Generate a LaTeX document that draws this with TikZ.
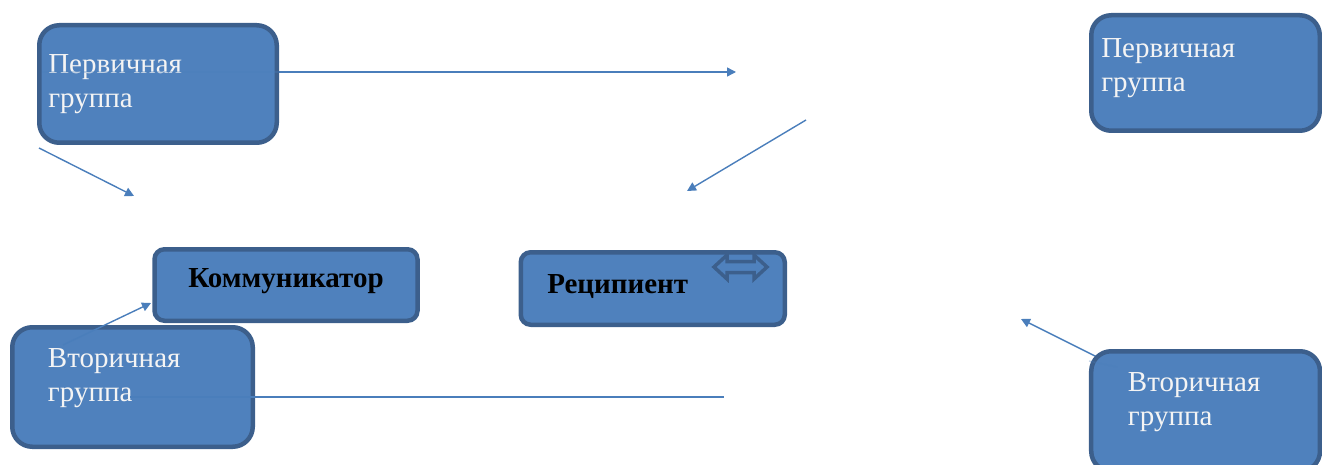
\documentclass[tikz,border=0pt]{standalone}
\usepackage{fontspec}
\setmainfont{Liberation Serif}
\usetikzlibrary{arrows.meta}
\definecolor{boxfill}{HTML}{4F81BD}
\definecolor{boxline}{HTML}{3C5F8C}
\definecolor{arrcol}{HTML}{4A7EBB}
\definecolor{grtext}{HTML}{F4F4F4}
\newcommand\boxtext[5]{\parbox[t][#2][t]{#1}{\setlength\leftskip{#4}\vspace*{#3}#5}}
\begin{document}
\begin{tikzpicture}[x=1pt,y=-1pt,
  grpbox/.style={draw=boxline, fill=boxfill,
    line width=4.5pt, rounded corners=20pt, inner sep=0pt, text=grtext,
    font=\fontsize{29}{34}\selectfont},
  rolebox/.style={grpbox, rounded corners=10pt, text=black, font=\bfseries\fontsize{29}{34}\selectfont},
  conn/.style={draw=arrcol, line width=1.4pt},
  faint/.style={conn, draw opacity=0.3},
  tip/.style={conn, -{Triangle[length=9pt,width=9pt]}}]
\useasboundingbox (0,0) rectangle (1322,465);
\clip (0,0) rectangle (1322,465);

% free ends of the connectors
\coordinate (a1) at (42,72);   \coordinate (a2) at (736,72);
\coordinate (b1) at (39,148);  \coordinate (b2) at (134,196);
\coordinate (c1) at (806,120); \coordinate (c2) at (687,191);
\coordinate (d1) at (63,345);  \coordinate (d2) at (151,303);
\coordinate (e1) at (130,397); \coordinate (e2) at (724,397);
\coordinate (f1) at (1117,367);\coordinate (f2) at (1021,319);

\draw[tip] (a1) -- (a2);
\draw[tip] (b1) -- (b2);
\draw[tip] (c1) -- (c2);
\draw[tip] (f1) -- (f2);

\node[grpbox] (p1) at (158,84)
  {\boxtext{237.5pt}{117.5pt}{29pt}{9pt}{Первичная\\группа}};
\node[grpbox] (p2) at (1205.5,73)
  {\boxtext{228.5pt}{115.5pt}{23.75pt}{10pt}{Первичная\\группа}};
\node[grpbox] (s1) at (132.5,387)
  {\boxtext{240.5pt}{119.5pt}{21.75pt}{35.75pt}{Вторичная\\группа}};
\node[grpbox] (s2) at (1205.6,411.25)
  {\boxtext{228.75pt}{120pt}{21.75pt}{36.75pt}{Вторичная\\группа}};
\node[rolebox] (kom) at (286,285)
  {\boxtext{263pt}{71.5pt}{19.75pt}{0pt}{\centering Коммуникатор}};
\node[rolebox] (rec) at (652.75,288.5)
  {\boxtext{264pt}{72.5pt}{22.5pt}{26.5pt}{Реципиент}};

% parts of the connectors seen faintly through the boxes
\draw[faint] (a1) -- (p1.east |- a1);
\draw[faint] (f1) -- (s2.west |- 1100,361);

\draw[tip] (d1) -- (d2);
\draw[conn] (e1) -- (e2);

% double arrow mark inside the recipient box
\draw[draw=boxline, fill=boxfill, line width=3.5pt, line join=miter]
  (714,267) -- (727,255) -- (727,261.5) -- (754,261.5) -- (754,255) -- (767,267)
  -- (754,279) -- (754,272.5) -- (727,272.5) -- (727,279) -- cycle;
\end{tikzpicture}
\end{document}
